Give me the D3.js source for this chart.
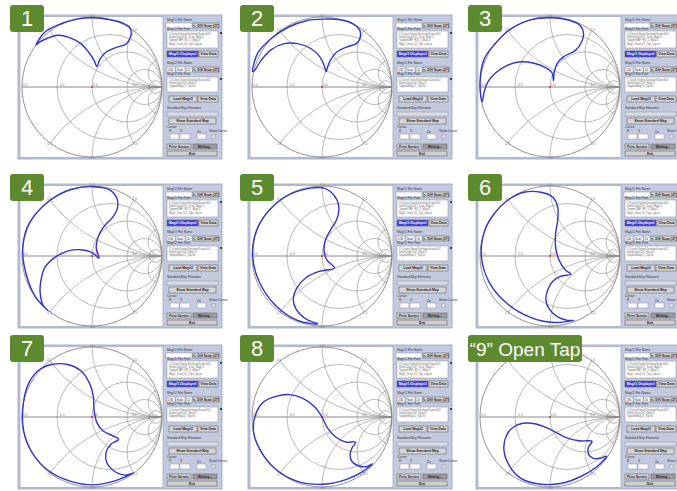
<!DOCTYPE html>
<html>
<head>
<meta charset="utf-8">
<script src="https://cdnjs.cloudflare.com/ajax/libs/d3/7.8.5/d3.min.js"></script>
<style>
body { margin: 0; background: #fff; }
svg { display: block; font-family: "Liberation Sans", Arial, sans-serif; }
</style>
</head>
<body>
<svg id="chart" width="677" height="491"></svg>
<script>
// panel captions
const panelLabels = ["1", "2", "3", "4", "5", "6", "7", "8", "\u201C9\u201D Open Tap"]

// smith grid
const resistances = [1/3, 1, 3, 10]
const reactances = [0.5, 1, 2, 5]
const axisTicks = [-1, -0.47, 0, 0.56]
const axisTickLabels = ["0.0", "0.3", "1.0", "3.0"]
const rimTicks = [0.5, 1, 2, -0.5, -1, -2]
const rimTickLabels = ["0.5", "1.0", "2.0", "-0.5", "-1.0", "-2.0"]

// impedance loops, reflection coefficient [re, im]
const curve1 = [[-0.80,0.60],[-0.68,0.78],[-0.45,0.90],[-0.21,0.97],[0.02,0.99],[0.26,0.96],[0.45,0.91],[0.54,0.85],[0.56,0.76],[0.53,0.67],[0.48,0.61],[0.33,0.56],[0.19,0.49],[0.11,0.39],[0.07,0.29],[0.03,0.38],[-0.05,0.50],[-0.16,0.62],[-0.33,0.71],[-0.49,0.74],[-0.63,0.70],[-0.75,0.64]]
const curve2 = [[-0.99,0.22],[-0.92,0.48],[-0.73,0.69],[-0.49,0.85],[-0.21,0.95],[0.02,0.97],[0.26,0.96],[0.45,0.90],[0.54,0.81],[0.54,0.69],[0.49,0.62],[0.35,0.57],[0.21,0.50],[0.12,0.38],[0.08,0.29],[0.06,0.22],[0.03,0.31],[-0.03,0.43],[-0.16,0.55],[-0.35,0.62],[-0.54,0.62],[-0.73,0.53],[-0.87,0.38],[-0.96,0.24]]
const curve3 = [[-0.97,-0.21],[-1.0,0.07],[-0.94,0.40],[-0.80,0.60],[-0.56,0.83],[-0.28,0.96],[0.0,0.99],[0.29,0.95],[0.43,0.88],[0.48,0.76],[0.45,0.64],[0.36,0.52],[0.19,0.43],[0.10,0.33],[0.06,0.21],[0.05,0.09],[0.03,0.20],[-0.07,0.28],[-0.23,0.34],[-0.42,0.36],[-0.61,0.31],[-0.78,0.20],[-0.89,0.07],[-0.94,-0.07]]
const curve4 = [[-0.63,-0.78],[-0.81,-0.58],[-0.94,-0.26],[-0.99,0.07],[-0.93,0.40],[-0.79,0.62],[-0.58,0.81],[-0.30,0.95],[0.02,0.99],[0.26,0.94],[0.36,0.81],[0.36,0.67],[0.30,0.56],[0.17,0.42],[0.09,0.28],[0.06,0.12],[0.10,-0.03],[0.05,0.01],[-0.02,0.06],[-0.16,0.09],[-0.35,0.07],[-0.53,-0.02],[-0.67,-0.16],[-0.73,-0.35],[-0.74,-0.53],[-0.70,-0.70]]
const curve5 = [[-0.06,-0.97],[-0.35,-0.92],[-0.67,-0.70],[-0.90,-0.36],[-0.99,0.0],[-0.93,0.38],[-0.72,0.69],[-0.44,0.89],[-0.16,0.97],[0.03,0.97],[0.17,0.87],[0.24,0.71],[0.21,0.52],[0.12,0.37],[0.05,0.23],[0.03,0.08],[0.07,-0.06],[0.18,-0.17],[-0.04,-0.22],[-0.23,-0.31],[-0.36,-0.46],[-0.41,-0.62],[-0.37,-0.76],[-0.23,-0.90]]
const curve6 = [[0.34,-0.92],[0.06,-0.95],[-0.27,-0.88],[-0.60,-0.69],[-0.86,-0.39],[-0.98,-0.01],[-0.93,0.37],[-0.80,0.60],[-0.60,0.80],[-0.37,0.91],[-0.13,0.91],[0.04,0.84],[0.11,0.70],[0.11,0.51],[0.08,0.32],[0.08,0.13],[0.13,-0.06],[0.22,-0.20],[0.30,-0.26],[0.15,-0.29],[0.04,-0.36],[-0.03,-0.48],[-0.06,-0.62],[-0.01,-0.76],[0.11,-0.87],[0.25,-0.92]]
const curve7 = [[0.59,-0.80],[0.30,-0.92],[0.02,-0.97],[-0.30,-0.92],[-0.63,-0.76],[-0.86,-0.50],[-0.98,-0.18],[-0.98,0.20],[-0.91,0.47],[-0.77,0.66],[-0.58,0.75],[-0.35,0.75],[-0.16,0.66],[-0.03,0.47],[0.02,0.29],[0.03,0.10],[0.07,-0.08],[0.16,-0.20],[0.30,-0.27],[0.38,-0.32],[0.27,-0.39],[0.20,-0.51],[0.21,-0.65],[0.30,-0.76],[0.47,-0.83]]
const curve8 = [[0.72,-0.67],[0.58,-0.78],[0.35,-0.89],[0.02,-0.96],[-0.35,-0.92],[-0.67,-0.74],[-0.90,-0.44],[-0.98,-0.20],[-0.94,0.06],[-0.84,0.21],[-0.67,0.29],[-0.47,0.32],[-0.28,0.27],[-0.11,0.15],[0.0,0.0],[0.08,-0.16],[0.20,-0.29],[0.35,-0.36],[0.48,-0.36],[0.43,-0.44],[0.40,-0.54],[0.43,-0.64],[0.53,-0.70],[0.63,-0.71]]
const curve9 = [[0.81,-0.56],[0.67,-0.71],[0.44,-0.85],[0.15,-0.95],[-0.13,-0.96],[-0.41,-0.88],[-0.59,-0.68],[-0.66,-0.45],[-0.62,-0.26],[-0.53,-0.15],[-0.39,-0.09],[-0.20,-0.10],[0.01,-0.18],[0.22,-0.29],[0.41,-0.34],[0.60,-0.35],[0.55,-0.43],[0.55,-0.53],[0.62,-0.59],[0.72,-0.59]]
const curves = [curve1, curve2, curve3, curve4, curve5, curve6, curve7, curve8, curve9]

const colX = [18, 248, 476]
const rowY = [15, 184, 345]
const R = 70

const svg = d3.select("#chart")

function drawSidePanel(g) {
	let s = g.append("g").attr("transform", "translate(146,0)")
	let label = (x, y, t) => s.append("text").attr("x", x).attr("y", y)
		.attr("font-size", "3.2px").attr("fill", "#333").text(t)
	let box = (x, y, w, h, fill) => s.append("rect").attr("x", x).attr("y", y)
		.attr("width", w).attr("height", h).attr("fill", fill || "#fff")
		.attr("stroke", "#8a8fa0").attr("stroke-width", 0.5)
	let button = (x, y, w, h, t, fill, color) => {
		s.append("rect").attr("x", x).attr("y", y).attr("width", w).attr("height", h)
			.attr("fill", fill || "#d6d6d6").attr("stroke", "#666").attr("stroke-width", 0.6)
		s.append("text").attr("x", x + w/2).attr("y", y + h/2 + 1.2)
			.attr("text-anchor", "middle").attr("font-size", "3.4px")
			.attr("font-weight", "bold").attr("fill", color || "#222").text(t)
	}
	label(3, 6, "Mag#1 File Name")
	box(2, 8, 26, 5)
	button(29, 8, 26, 5, "<- Diff Scan (27)")
	label(3, 15, "Mag#1 File Path")
	box(3, 16, 51, 17)
	;["C:\\Users\\Owner\\Desktop\\Scans\\001", "SmithChart\\16T_Scan_Mag#1", "Tapped\\TAP_RD_1_Mag#1", "Mag1_Scan_01_Tap_Log.txt"]
		.forEach((t, i) => s.append("text").attr("x", 5).attr("y", 20 + i*3.2)
			.attr("font-size", "2.6px").attr("fill", "#666").text(t))
	s.append("rect").attr("x", 56).attr("y", 17).attr("width", 2).attr("height", 2).attr("fill", "#444")
	button(3, 36, 31, 6, "Mag#1 Displayed", "#3c3ce0", "#fff")
	button(35, 36, 19, 6, "View Data")
	label(3, 49, "Mag#2 File Name")
	box(3, 52, 8, 5); box(12, 52, 9, 5); box(22, 52, 6, 5)
	s.append("text").attr("x", 4).attr("y", 55.5).attr("font-size", "2.6px").text("1/16")
	s.append("text").attr("x", 13).attr("y", 55.5).attr("font-size", "2.6px").text("Scan")
	s.append("text").attr("x", 23).attr("y", 55.5).attr("font-size", "2.6px").text("10")
	button(29, 52, 26, 5, "<- Diff Scan (27)")
	label(3, 60, "Mag#2 File Path")
	box(3, 62, 51, 15)
	;["C:\\Users\\Owner\\Desktop\\Scans\\002", "SmithChart\\16T_Mag#2", "Tapped\\Mag#2_Tap.txt"]
		.forEach((t, i) => s.append("text").attr("x", 5).attr("y", 66 + i*3.2)
			.attr("font-size", "2.6px").attr("fill", "#666").text(t))
	s.append("rect").attr("x", 56).attr("y", 63).attr("width", 2).attr("height", 2).attr("fill", "#444")
	button(5, 81, 28, 6, "Load Mag#2")
	button(34, 81, 20, 6, "View Data")
	label(3, 94, "Standard Map Filename")
	box(3, 97, 51, 4, "#d9dce6")
	button(5, 103, 47, 6, "Show Standard Map")
	label(3, 113, "Cursor")
	label(5, 117, "R"); label(16, 117, "X"); label(33, 118, "Zo"); label(45, 117, "Show Cursor")
	box(6, 119, 9, 5); box(16, 119, 10, 5); box(33, 119, 9, 5)
	s.append("rect").attr("x", 48).attr("y", 120).attr("width", 3).attr("height", 3)
		.attr("fill", "#fff").attr("stroke", "#666").attr("stroke-width", 0.4)
	button(3, 129, 24, 5, "Print Screen")
	button(29, 129, 24, 5, "Writing...", "#9c9c9c")
	button(3, 136, 50, 5, "Exit", "#cfcfcf")
}

function drawPanel(i) {
	let fx = colX[i % 3], fy = rowY[Math.floor(i / 3)]
	let g = svg.append("g").attr("transform", "translate(" + fx + ", " + fy + ")")

	g.append("rect").attr("width", 204).attr("height", 144)
		.attr("fill", "#c3c9de").attr("stroke", "#9aa3bd").attr("stroke-width", 0.8)
	g.append("rect").attr("x", 2).attr("y", 1.5).attr("width", 143).attr("height", 141)
		.attr("fill", "#fff").attr("stroke", "#9098b2").attr("stroke-width", 0.6)

	let cx = 74, cy = 72
	let x = d3.scaleLinear().domain([-1, 1]).range([cx - R, cx + R])
	let y = d3.scaleLinear().domain([-1, 1]).range([cy + R, cy - R])

	let clipId = "clip" + i
	g.append("clipPath").attr("id", clipId)
		.append("circle").attr("cx", x(0)).attr("cy", y(0)).attr("r", R)

	let grid = g.append("g").attr("clip-path", "url(#" + clipId + ")")
		.attr("fill", "none").attr("stroke", "#8c8c8c").attr("stroke-width", 0.6)
	resistances.forEach(r => {
		grid.append("circle").attr("cx", x(r / (1 + r))).attr("cy", y(0))
			.attr("r", x(1 / (1 + r)) - x(0))
	})
	reactances.forEach(xx => {
		;[1, -1].forEach(sg => {
			grid.append("circle").attr("cx", x(1)).attr("cy", y(sg / xx))
				.attr("r", x(1 / xx) - x(0))
		})
	})
	g.append("circle").attr("cx", x(0)).attr("cy", y(0)).attr("r", R)
		.attr("fill", "none").attr("stroke", "#777").attr("stroke-width", 0.8)
	g.append("line").attr("x1", x(-1)).attr("x2", x(1)).attr("y1", y(0)).attr("y2", y(0))
		.attr("stroke", "#8a8a8a").attr("stroke-width", 1)

	// tick labels
	axisTicks.forEach((t, k) => {
		g.append("text").attr("x", x(t) + 1).attr("y", y(0) - 1)
			.attr("font-size", "3.2px").attr("fill", t == 0 ? "#d02020" : "#777")
			.text(axisTickLabels[k])
	})
	g.append("circle").attr("cx", x(0)).attr("cy", y(0)).attr("r", 0.9).attr("fill", "#e02020")
	rimTicks.forEach((xx, k) => {
		let a = Math.PI - 2 * Math.atan(xx)
		g.append("text").attr("x", x(Math.cos(a) * 1.02)).attr("y", y(Math.sin(a) * 1.02) + 1)
			.attr("text-anchor", "middle").attr("font-size", "3.2px").attr("fill", "#777")
			.text(rimTickLabels[k])
	})

	// measured loop
	let line = d3.line().x(d => x(d[0])).y(d => y(d[1]))
		.curve(d3.curveCatmullRomClosed.alpha(0.5))
	g.append("path").attr("d", line(curves[i]))
		.attr("fill", "none").attr("stroke", "#3434cc").attr("stroke-width", 1.4)
		.attr("stroke-linejoin", "round")

	drawSidePanel(g)

	// caption
	let w = i == 8 ? 114 : 34
	g.append("rect").attr("x", -8).attr("y", -10).attr("width", w).attr("height", 27)
		.attr("rx", 3).attr("fill", "#5d8a2f")
	g.append("text").attr("x", -8 + w/2).attr("y", 10.5).attr("text-anchor", "middle")
		.attr("font-size", i == 8 ? "19px" : "22px").attr("fill", "#fff")
		.text(panelLabels[i])
}

for (let i = 0; i < 9; i++) drawPanel(i)
</script>
</body>
</html>
